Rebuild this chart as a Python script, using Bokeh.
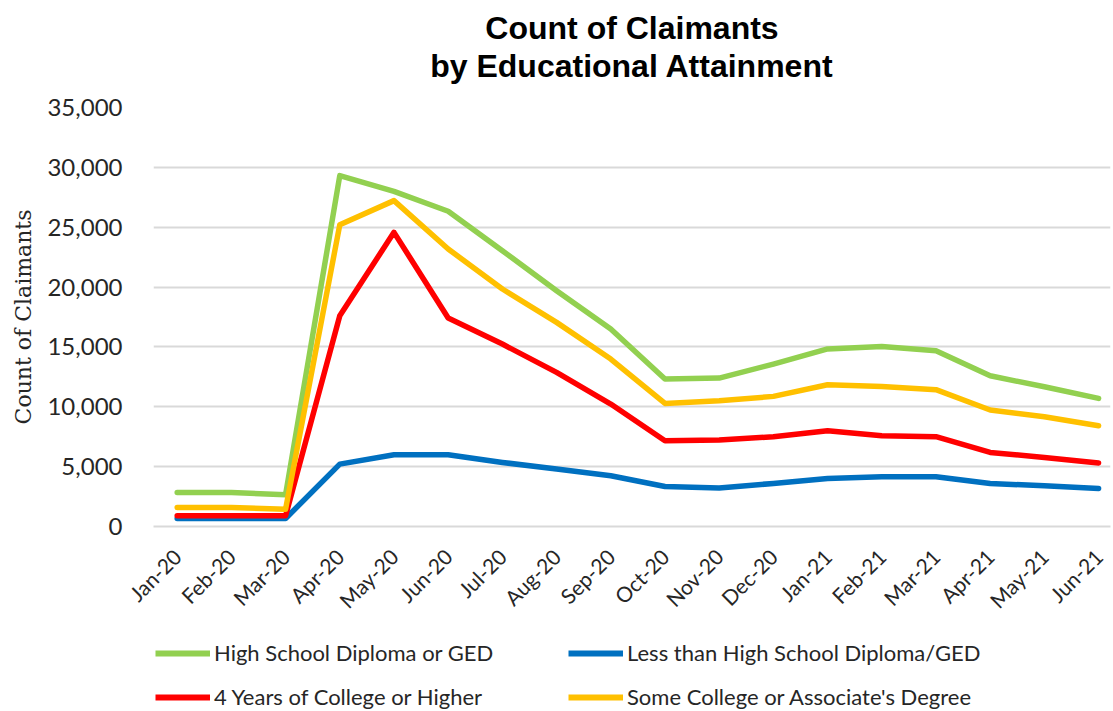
from bokeh.plotting import figure
from bokeh.layouts import column
from bokeh.models import (FixedTicker, Legend, LegendItem, Title, Range1d,
                          NumeralTickFormatter)
from bokeh.embed import file_html
from bokeh.resources import INLINE
import math

months = ["Jan-20", "Feb-20", "Mar-20", "Apr-20", "May-20", "Jun-20", "Jul-20",
          "Aug-20", "Sep-20", "Oct-20", "Nov-20", "Dec-20", "Jan-21", "Feb-21",
          "Mar-21", "Apr-21", "May-21", "Jun-21"]

high_school = [2840, 2840, 2650, 29310, 28000, 26330, 23040, 19700, 16500, 12320,
               12400, 13570, 14830, 15040, 14680, 12590, 11670, 10700]
less_than_hs = [670, 670, 670, 5210, 5990, 5990, 5350, 4800, 4240, 3340,
                3210, 3600, 4010, 4150, 4150, 3600, 3400, 3180]
college_4yr = [890, 890, 890, 17610, 24570, 17420, 15240, 12870, 10230, 7160,
               7220, 7500, 8000, 7580, 7500, 6190, 5770, 5300]
some_college = [1590, 1580, 1450, 25210, 27220, 23180, 19840, 17050, 13990, 10280,
                10500, 10870, 11840, 11700, 11430, 9730, 9170, 8420]

series = [
    ("High School Diploma or GED", high_school, "#92D050"),
    ("Less than High School Diploma/GED", less_than_hs, "#0070C0"),
    ("4 Years of College or Higher", college_4yr, "#FF0000"),
    ("Some College or Associate's Degree", some_college, "#FFC000"),
]
legend_order = ["High School Diploma or GED", "4 Years of College or Higher",
                "Less than High School Diploma/GED", "Some College or Associate's Degree"]

x = list(range(len(months)))

# ---------------- main chart ----------------
p = figure(width=1113, height=624, output_backend="svg", toolbar_location=None,
           x_range=Range1d(-0.437, 17.22), y_range=Range1d(0, 35000),
           min_border_left=153, min_border_right=3, min_border_top=107,
           min_border_bottom=98)
p.outline_line_color = None
p.background_fill_color = "white"

for name, vals, col in series:
    p.line(x, vals, line_color=col, line_width=5.5, line_join="round",
           line_cap="round")

p.xaxis.ticker = FixedTicker(ticks=x)
p.xaxis.major_label_overrides = {i: m for i, m in enumerate(months)}
p.xaxis.major_label_orientation = math.pi / 4
p.xaxis.major_label_text_font = "Lato"
p.xaxis.major_label_text_font_size = "21px"
p.xaxis.major_label_text_color = "#262626"
p.xaxis.major_tick_line_color = None
p.xaxis.minor_tick_line_color = None
p.xaxis.axis_line_color = "#d9d9d9"
p.xaxis.axis_line_width = 2
p.xaxis.major_label_standoff = 20

p.yaxis.ticker = FixedTicker(ticks=[0, 5000, 10000, 15000, 20000, 25000, 30000, 35000])
p.yaxis.formatter = NumeralTickFormatter(format="0,0")
p.yaxis.major_label_text_font = "Lato"
p.yaxis.major_label_text_font_size = "24px"
p.yaxis.major_label_text_color = "#262626"
p.yaxis.major_tick_line_color = None
p.yaxis.minor_tick_line_color = None
p.yaxis.axis_line_color = None
p.yaxis.major_label_standoff = 25
p.yaxis.axis_label = "Count of Claimants"
p.yaxis.axis_label_text_font = "DejaVu Serif"
p.yaxis.axis_label_text_font_style = "normal"
p.yaxis.axis_label_text_font_size = "22px"
p.yaxis.axis_label_text_color = "#262626"
p.yaxis.axis_label_standoff = 8

p.xgrid.grid_line_color = None
p.ygrid.grid_line_color = "#d9d9d9"
p.ygrid.grid_line_width = 2

p.title.text = "Count of Claimants"
p.title.align = "center"
p.title.text_font = "Liberation Sans"
p.title.text_font_style = "bold"
p.title.text_font_size = "32px"
p.title.text_color = "black"
p.title.standoff = 0
# spacer between the subtitle and the plot area (closest to the frame)
p.add_layout(Title(text=" ", text_font_size="20px", standoff=0), "above")
p.add_layout(Title(text="by Educational Attainment", align="center",
                   text_font="Liberation Sans", text_font_style="bold",
                   text_font_size="32px", text_color="black", standoff=0), "above")

# ---------------- legend strip ----------------
lg = figure(width=1113, height=87, output_backend="svg", toolbar_location=None,
            x_range=Range1d(0, 1), y_range=Range1d(100000, 100001),
            x_axis_location=None, y_axis_location=None,
            min_border=0)
lg.outline_line_color = None
lg.xgrid.grid_line_color = None
lg.ygrid.grid_line_color = None
keys = {}
for name, vals, col in series:
    keys[name] = lg.line(x, vals, line_color=col, line_width=6)

items = [LegendItem(label=name, renderers=[keys[name]]) for name in legend_order]
legend = Legend(items=items, ncols=2, location=(2, 1),
                glyph_width=55, glyph_height=20, label_standoff=4,
                label_width=337, label_text_font="Lato",
                label_text_font_size="22px", label_text_color="#262626",
                spacing=17, padding=0, margin=0, border_line_color=None,
                background_fill_alpha=0)
lg.add_layout(legend, "center")

layout = column(p, lg, spacing=0)
open("out.html", "w").write(file_html(layout, INLINE))
